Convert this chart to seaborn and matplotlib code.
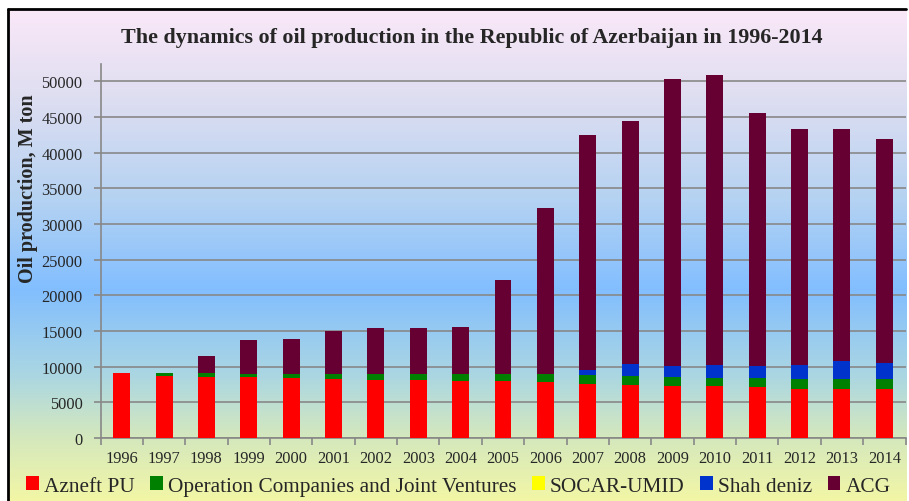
import numpy as np
import pandas as pd
import matplotlib
matplotlib.use("Agg")
import matplotlib.pyplot as plt
import seaborn as sns
from matplotlib.colors import LinearSegmentedColormap
from matplotlib.patches import Patch

# data (thousand tons)
years = [str(y) for y in range(1996, 2015)]
azneft = [9060, 8680, 8590, 8590, 8400, 8310, 8120, 8120, 8030, 8030,
          7840, 7560, 7470, 7280, 7280, 7190, 6910, 6910, 6910]
joint = [0, 380, 560, 370, 560, 650, 840, 840, 930, 930,
         1120, 1260, 1170, 1260, 1080, 1170, 1350, 1350, 1350]
socar = [0] * 19
shah = [0, 0, 0, 0, 0, 0, 0, 0, 0, 0,
        0, 750, 1770, 1590, 1910, 1770, 2010, 2570, 2290]
acg = [0, 90, 2380, 4830, 4970, 6050, 6430, 6430, 6570, 13140,
       23250, 32870, 34080, 40150, 40570, 35430, 33100, 32540, 31370]

series = ["Azneft PU", "Operation Companies and Joint Ventures", "SOCAR-UMID", "Shah deniz", "ACG"]
colors = ["#FF0000", "#008000", "#FFFF00", "#0033CC", "#660033"]

df = pd.DataFrame({"year": years, "Azneft PU": azneft,
                   "Operation Companies and Joint Ventures": joint,
                   "SOCAR-UMID": socar, "Shah deniz": shah, "ACG": acg})
cum = df[series].cumsum(axis=1)

sns.set_theme(style="white")
plt.rcParams["font.family"] = ["Liberation Serif", "DejaVu Serif"]

W, H = 909, 502
fig = plt.figure(figsize=(W / 100, H / 100), dpi=100, facecolor="white")

# gradient background inside the frame
bg = fig.add_axes([8 / W, 0, 898 / W, 1 - 10 / H], zorder=-10)
stops = [(0.00, (250, 232, 248)), (0.18, (222, 222, 241)), (0.39, (180, 210, 242)),
         (0.57, (130, 190, 255)), (0.75, (172, 215, 225)), (0.87, (212, 232, 190)),
         (1.00, (242, 246, 165))]
cmap = LinearSegmentedColormap.from_list("bg", [(p, tuple(c / 255 for c in rgb)) for p, rgb in stops])
bg.imshow(np.linspace(0, 1, 256)[:, None], aspect="auto", cmap=cmap, extent=[0, 1, 0, 1])
bg.set_axis_off()

# frame lines (left and top)
fig.add_artist(plt.Line2D([8 / W, 8 / W], [0, 1 - 10 / H], color="black", lw=2))
fig.add_artist(plt.Line2D([8 / W, 906 / W], [1 - 10 / H, 1 - 10 / H], color="black", lw=2))

ax = fig.add_axes([100.5 / W, 1 - 439 / H, 805 / W, (439 - 65) / H])
ax.patch.set_alpha(0)

# stacked bars: draw cumulative totals from the top series down
for name, col in zip(series[::-1], colors[::-1]):
    sns.barplot(x=df["year"], y=cum[name], color=col, width=0.4, ax=ax,
                saturation=1, errorbar=None, zorder=3, linewidth=0)

ax.set_xlim(-0.5, len(years) - 0.5)
ax.set_ylim(0, 52450)
ax.set_yticks(range(0, 50001, 5000))
ax.yaxis.grid(True, color="#888888", lw=1.2)
ax.set_axisbelow(True)
for s in ["top", "right"]:
    ax.spines[s].set_visible(False)
for s in ["left", "bottom"]:
    ax.spines[s].set_color("#888888")
    ax.spines[s].set_linewidth(1.2)

ax.set_xticks(np.arange(-0.5, len(years), 1), minor=True)
ax.tick_params(axis="x", which="major", length=0, labelsize=11.8, pad=9)
ax.tick_params(axis="x", which="minor", length=5, color="#888888", width=1.2, bottom=True)
ax.tick_params(axis="y", length=5, color="#888888", width=1.2, left=True, labelsize=11.8, pad=8)
ax.set_xlabel("")
ax.set_ylabel("Oil production, M ton", fontsize=14.5, fontweight="bold")
ax.yaxis.set_label_coords(-62 / 805, 0.67)

fig.text(472 / W, 1 - 38 / H, "The dynamics of oil production in the Republic of Azerbaijan in 1996-2014",
         ha="center", va="center", fontsize=15.8, fontweight="bold")

handles = [Patch(facecolor=c, edgecolor="none") for c in colors]
fig.legend(handles, series, loc="center left", bbox_to_anchor=(26 / W, 1 - 487 / H), ncol=5,
           frameon=False, fontsize=15.3, handlelength=0.6, handleheight=0.6,
           handletextpad=0.25, columnspacing=0.72, borderaxespad=0, borderpad=0)

fig.savefig("out.png", dpi=100, facecolor="white")
